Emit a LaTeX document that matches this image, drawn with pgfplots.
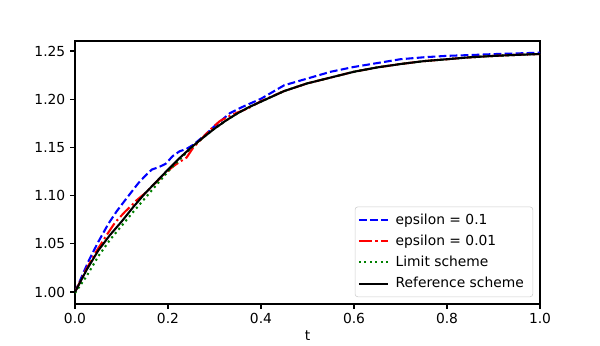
\documentclass[border=0pt]{standalone}
\usepackage{pgfplots}
\pgfplotsset{compat=1.18}
\usepackage{fontspec}
\setmainfont{DejaVu Sans}

\begin{document}
\begin{tikzpicture}
\begin{axis}[
    name=ax,
    scale only axis,
    width=4.65in, height=2.63in,
    xmin=0, xmax=1,
    ymin=0.9876, ymax=1.2604,
    xtick={0,0.2,...,1.0},
    ytick={1.00,1.05,...,1.26},
    xticklabel style={/pgf/number format/.cd, fixed, fixed zerofill, precision=1},
    yticklabel style={/pgf/number format/.cd, fixed, fixed zerofill, precision=2},
    /pgf/number format/assume math mode=true,
    tick align=outside,
    tick pos=left,
    major tick length=3.5pt,
    tick style={black, line width=0.8pt},
    axis line style={line width=0.8pt},
    xlabel={t},
    xlabel style={yshift=2pt},
    font=\fontsize{10pt}{12pt}\selectfont,
    legend cell align=left,
    legend style={at={(1,0)}, anchor=south east, xshift=-5pt, yshift=5pt,
        draw=black!20, rounded corners=2pt, fill=white, fill opacity=0.8,
        text opacity=1, row sep=2.2pt, inner xsep=2pt, inner ysep=3pt,
        nodes={inner xsep=4.5pt},
        font=\fontsize{10pt}{12pt}\selectfont},
    legend image code/.code={\draw[#1] (0cm,0cm) -- (0.75cm,0cm);},
]
% epsilon = 0.1
\addplot[blue, line width=1.5pt, dash pattern=on 5.55pt off 2.4pt] table {
0 1.000
0.03 1.033
0.05 1.052
0.072 1.071
0.09 1.084
0.108 1.0954
0.125 1.106
0.136 1.1128
0.15 1.120
0.165 1.127
0.18 1.1295
0.195 1.133
0.21 1.141
0.225 1.146
0.24 1.1485
0.255 1.153
0.28 1.163
0.3 1.172
0.333 1.1855
0.36 1.192
0.4 1.2005
0.45 1.2145
0.5 1.2215
0.55 1.2285
0.6 1.2335
0.65 1.2375
0.7 1.2415
0.75 1.2435
0.8 1.245
0.85 1.2458
0.9 1.2468
0.95 1.2475
1.0 1.2483
};
\addlegendentry{epsilon = 0.1}
% epsilon = 0.01
\addplot[red, line width=1.5pt, dash pattern=on 9.6pt off 2.4pt on 1.5pt off 2.4pt] table {
0 1.000
0.0215 1.021
0.043 1.040
0.068 1.059
0.086 1.072
0.1075 1.0833
0.12 1.089
0.133 1.0954
0.1505 1.1024
0.16 1.107
0.172 1.1128
0.19 1.121
0.21 1.130
0.225 1.135
0.24 1.1395
0.254 1.1497
0.28 1.163
0.3 1.1725
0.312 1.1775
0.33 1.182
0.348 1.186
0.37 1.190
0.4 1.198
0.45 1.2085
0.5 1.2165
0.55 1.2225
0.6 1.2285
0.65 1.233
0.7 1.2365
0.75 1.2395
0.8 1.2415
0.85 1.2435
0.9 1.2449
0.95 1.246
1.0 1.2469
};
\addlegendentry{epsilon = 0.01}
% limit scheme
\addplot[black!50!green, line width=1.5pt, dash pattern=on 1.5pt off 2.475pt] table {
0 0.999
0.025 1.0165
0.05 1.037
0.075 1.054
0.1 1.0685
0.125 1.083
0.15 1.097
0.175 1.111
0.2 1.125
0.225 1.1375
0.25 1.1495
0.275 1.160
0.3 1.1695
0.325 1.178
0.35 1.1855
0.375 1.192
0.4 1.1975
0.45 1.2085
0.5 1.2165
0.55 1.2225
0.6 1.2285
0.65 1.233
0.7 1.2365
0.75 1.2395
0.8 1.2415
0.85 1.2435
0.9 1.2449
0.95 1.246
1.0 1.2469
};
\addlegendentry{Limit scheme}
% reference scheme
\addplot[black, line width=1.5pt] table {
0 1.000
0.025 1.023
0.05 1.043
0.075 1.059
0.1 1.073
0.125 1.088
0.15 1.102
0.175 1.1145
0.2 1.127
0.225 1.139
0.25 1.150
0.275 1.160
0.3 1.1695
0.325 1.178
0.35 1.1855
0.375 1.192
0.4 1.1975
0.45 1.2085
0.5 1.2165
0.55 1.2225
0.6 1.2285
0.65 1.233
0.7 1.2365
0.75 1.2395
0.8 1.2415
0.85 1.2435
0.9 1.2449
0.95 1.246
1.0 1.2469
};
\addlegendentry{Reference scheme}
\end{axis}
\path ([xshift=-0.75in,yshift=-0.375in]ax.south west) rectangle ([xshift=0.6in,yshift=0.41in]ax.north east);
\end{tikzpicture}
\end{document}
